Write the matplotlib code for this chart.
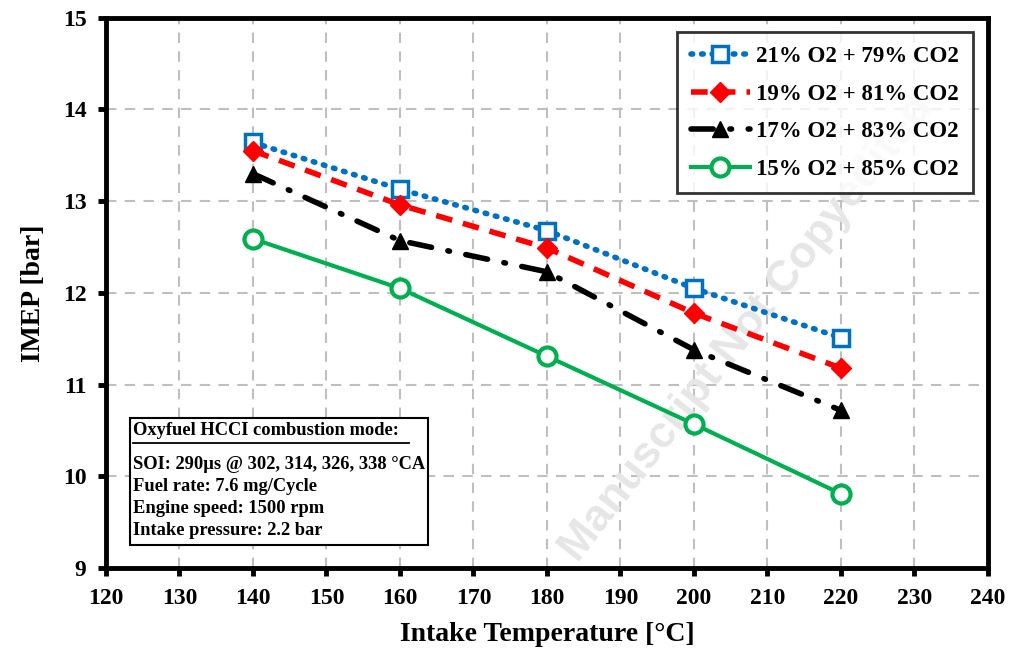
import matplotlib
matplotlib.use("Agg")
import matplotlib.pyplot as plt

temps = [140, 160, 180, 200, 220]
imep_21 = [13.64, 13.13, 12.68, 12.05, 11.51]
imep_19 = [13.55, 12.96, 12.49, 11.78, 11.18]
imep_17 = [13.30, 12.57, 12.23, 11.38, 10.72]
imep_15 = [12.59, 12.05, 11.31, 10.57, 9.81]
labels = ["21% O2 + 79% CO2", "19% O2 + 81% CO2",
          "17% O2 + 83% CO2", "15% O2 + 85% CO2"]

plt.rcParams['font.family'] = ['Liberation Serif', 'DejaVu Serif']
plt.rcParams['font.weight'] = 'bold'

fig = plt.figure(figsize=(10.09, 6.56), dpi=100)
ax = fig.add_axes([0.105, 0.134, 0.874, 0.839])

ax.plot(temps, imep_21, color='#0070C0', linestyle=(0, (0.3, 1.6)), linewidth=4,
        dash_capstyle='round', marker='s', markersize=11, markerfacecolor='white',
        markeredgewidth=2.5, label=labels[0], zorder=5)
ax.plot(temps, imep_19, color='#FF0000', linestyle=(0, (3, 2)), linewidth=4,
        marker='D', markersize=10, label=labels[1], zorder=5)
ax.plot(temps, imep_17, color='black', linestyle=(0, (4, 3, 0.3, 3)), linewidth=4,
        dash_capstyle='round', marker='^', markersize=12, label=labels[2], zorder=5)
ax.plot(temps, imep_15, color='#00B050', linestyle='-', linewidth=3,
        marker='o', markersize=13, markerfacecolor='white', markeredgewidth=3,
        label=labels[3], zorder=5)

ax.set_xlim(120, 240)
ax.set_ylim(9, 15)
ax.set_xticks(range(120, 241, 10))
ax.set_yticks(range(9, 16))
ax.grid(True, color='#BFBFBF', linestyle=(0, (5, 4)), linewidth=1.5)
for s in ax.spines.values():
    s.set_linewidth(3.5)
ax.tick_params(direction='out', length=6, width=3.5, labelsize=17, pad=8)
for lbl in ax.get_xticklabels() + ax.get_yticklabels():
    lbl.set_fontweight('bold')

ax.set_xlabel('Intake Temperature [°C]', fontsize=20, fontweight='bold', labelpad=10)
ax.set_ylabel('IMEP [bar]', fontsize=20, fontweight='bold', labelpad=12)

leg = ax.legend(loc='upper right', bbox_to_anchor=(0.988, 0.982), frameon=True,
                fancybox=False, edgecolor='black', handlelength=2.6,
                handletextpad=0.25, labelspacing=0.72, borderpad=0.6,
                borderaxespad=0.2, prop={'weight': 'bold', 'size': 16.5})
leg.get_frame().set_linewidth(2)

# box with the test conditions
ax.add_patch(plt.Rectangle((0.027, 0.042), 0.338, 0.231, transform=ax.transAxes,
                           facecolor='white', edgecolor='black', linewidth=1.5, zorder=6))
ax.text(0.031, 0.266, 'Oxyfuel HCCI combustion mode:', transform=ax.transAxes,
        fontsize=13.3, fontweight='bold', va='top', zorder=7)
ax.plot([0.031, 0.344], [0.228, 0.228], transform=ax.transAxes, color='black',
        linewidth=1.3, zorder=7)
ax.text(0.031, 0.204, 'SOI: 290µs @ 302, 314, 326, 338 °CA\nFuel rate: 7.6 mg/Cycle\n'
        'Engine speed: 1500 rpm\nIntake pressure: 2.2 bar', transform=ax.transAxes,
        fontsize=13.3, fontweight='bold', va='top', linespacing=1.38, zorder=7)

ax.text(0.74, 0.5, 'Manuscript Not Copyedited', transform=fig.transFigure,
        fontsize=32, fontweight='bold', color='#E6E6E6', rotation=52,
        ha='center', va='center', family='Liberation Sans', zorder=2, clip_on=False)

fig.savefig('out.png', dpi=100)
